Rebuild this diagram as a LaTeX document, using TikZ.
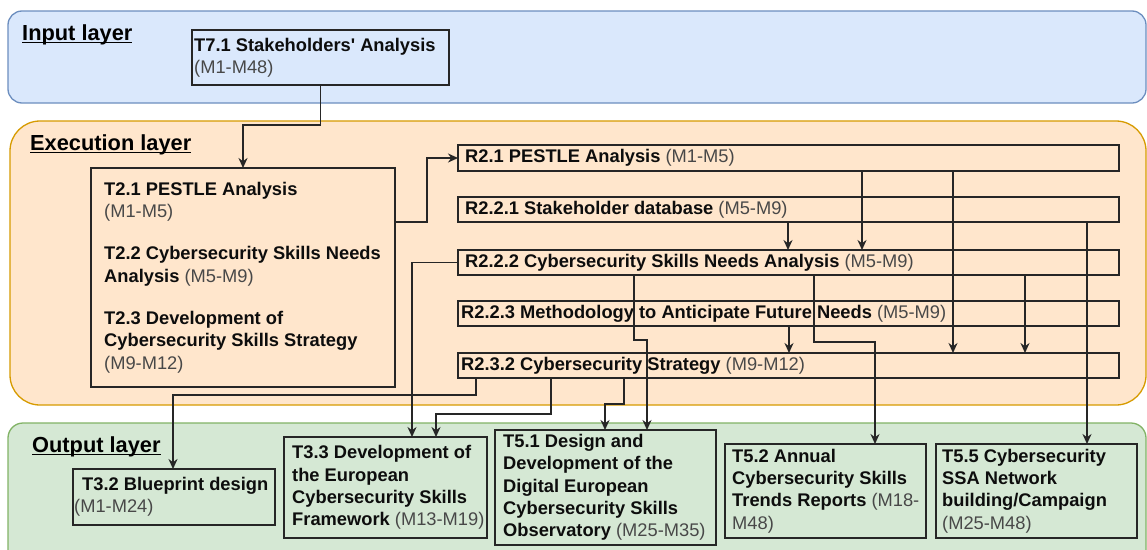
\documentclass[tikz,border=0pt]{standalone}
\usepackage{fontspec}
\setmainfont{Liberation Sans}
\usetikzlibrary{arrows.meta}
\usetikzlibrary{fit}
\definecolor{inbg}{RGB}{218,232,252}
\definecolor{inl}{RGB}{108,142,191}
\definecolor{exbg}{RGB}{255,230,204}
\definecolor{exl}{RGB}{215,155,0}
\definecolor{outbg}{RGB}{213,232,212}
\definecolor{outl}{RGB}{130,179,102}
\definecolor{durtext}{RGB}{72,72,72}
\newcommand\dur[1]{{\mdseries\color{durtext}#1}}
\newcommand\ulayer[1]{\setbox0\hbox{#1}\rlap{\rule[-3pt]{\wd0}{1.5pt}}\box0}

\begin{document}
\begin{tikzpicture} [
    x=1pt, y=-1pt,
    f/.style={draw=black!85, line width=1.6pt, -{Stealth[length=10pt,width=9pt]}},
    layer/.style={inner sep=0pt, outer sep=0pt, line width=1.3pt},
    layertitle/.style={
        anchor=base west, inner sep=0pt,
        font=\fontsize{21.8}{26}\selectfont\bfseries
    },
    box/.style={
        draw=black!85, line width=2pt,
        anchor=north west, inner sep=0pt, outer sep=0pt
    },
    boxtext/.style={
        anchor=west, inner sep=0pt, align=left, text=black!95,
        font=\fontsize{18.3}{22.3}\selectfont\bfseries
    }
]

\useasboundingbox [fill=white] (0,0) rectangle (1147,549);

% layers
\node [layer, fit={(8,11) (1146,103)}, fill=inbg, draw=inl,
    rounded corners=14pt] (inlayer) {};
\node [layer, fit={(10,121) (1146,405)}, fill=exbg, draw=exl,
    rounded corners=30pt] (exlayer) {};
\node [layer, fit={(8,423) (1146,580)}, fill=outbg, draw=outl,
    rounded corners=15pt] (outlayer) {};

\node [layertitle] (inlabel) at (22,40) {\ulayer{Input layer}};
\node [layertitle] (exlabel) at (30,150) {\ulayer{Execution layer}};
\node [layertitle] (outlabel) at (32,452) {\ulayer{Output layer}};

% input
\node [box, minimum width=257pt, minimum height=55pt] (t71) at (192,30) {};
\node [boxtext] (t71txt) at ([xshift=2pt]t71.west)
    {T7.1 Stakeholders\textquotesingle{} Analysis\\ \dur{(M1-M48)}};

% execution
\node [box, minimum width=304pt, minimum height=219pt] (t2) at (91,168) {};
\node [boxtext] (t2txt) at ([xshift=13pt]t2.west) {%
    T2.1 PESTLE Analysis\\ \dur{(M1-M5)}\\[20pt]
    T2.2 Cybersecurity Skills Needs\\ Analysis \dur{(M5-M9)}\\[20pt]
    T2.3 Development of\\ Cybersecurity Skills Strategy\\ \dur{(M9-M12)}};

\node [box, minimum width=661pt, minimum height=26pt] (r21) at (458,145) {};
\node [boxtext] (r21txt) at ([xshift=7pt]r21.west)
    {R2.1 PESTLE Analysis \dur{(M1-M5)}};
\node [box, minimum width=661pt, minimum height=25pt] (r221) at (458,197) {};
\node [boxtext] (r221txt) at ([xshift=7pt]r221.west)
    {R2.2.1 Stakeholder database \dur{(M5-M9)}};
\node [box, minimum width=661pt, minimum height=25pt] (r222) at (458,250) {};
\node [boxtext] (r222txt) at ([xshift=7pt]r222.west)
    {R2.2.2 Cybersecurity Skills Needs Analysis \dur{(M5-M9)}};
\node [box, minimum width=661pt, minimum height=25pt] (r223) at (458,301) {};
\node [boxtext] (r223txt) at ([xshift=3pt]r223.west)
    {R2.2.3 Methodology to Anticipate Future Needs \dur{(M5-M9)}};
\node [box, minimum width=661pt, minimum height=25pt] (r232) at (458,353) {};
\node [boxtext] (r232txt) at ([xshift=3pt]r232.west)
    {R2.3.2 Cybersecurity Strategy \dur{(M9-M12)}};

% output
\node [box, minimum width=202pt, minimum height=56pt] (t32) at (73,469) {};
\node [boxtext] (t32txt) at ([xshift=1pt]t32.west)
    {\hspace*{8pt}T3.2 Blueprint design\\ \dur{(M1-M24)}};
\node [box, minimum width=203pt, minimum height=101pt] (t33) at (284,437) {};
\node [boxtext] (t33txt) at ([xshift=8pt]t33.west)
    {T3.3 Development of\\ the European\\ Cybersecurity Skills\\
     Framework \dur{(M13-M19)}};
\node [box, minimum width=221pt, minimum height=115pt] (t51) at (495,430) {};
\node [boxtext] (t51txt) at ([xshift=8pt]t51.west)
    {T5.1 Design and\\ Development of the\\ Digital European\\
     Cybersecurity Skills\\ Observatory \dur{(M25-M35)}};
\node [box, minimum width=201pt, minimum height=94pt] (t52) at (725,444) {};
\node [boxtext] (t52txt) at ([xshift=7pt]t52.west)
    {T5.2 Annual\\ Cybersecurity Skills\\ Trends Reports \dur{(M18-}\\
     \dur{M48)}};
\node [box, minimum width=201pt, minimum height=94pt] (t55) at (936,444) {};
\node [boxtext] (t55txt) at ([xshift=6pt]t55.west)
    {T5.5 Cybersecurity\\ SSA Network\\ building/Campaign\\ \dur{(M25-M48)}};

% links
\draw [f] (t71.south) -- ++(0,40) -| (t2.north);
\draw [f] ([yshift=55.5pt]t2.east) -- ++(32,0) |- (r21.west);

\draw [f] ([xshift=404pt]r21.south west) -- ([xshift=404pt]r222.north west);
\draw [f] ([xshift=495pt]r21.south west) -- ([xshift=495pt]r232.north west);
\draw [f] ([xshift=330pt]r221.south west) -- ([xshift=330pt]r222.north west);
\draw [f] ([xshift=629pt]r221.south west) -- ([xshift=151pt]t55.north west);
\draw [f] ([xshift=567pt]r222.south west) -- ([xshift=567pt]r232.north west);
\draw [f] ([xshift=331pt]r223.south west) -- ([xshift=331pt]r232.north west);

\draw [f] (r222.west) -| ([xshift=128pt]t33.north west);
\draw [f] ([xshift=176pt]r222.south west) -- ++(0,65) -| ([xshift=152pt]t51.north west);
\draw [f] ([xshift=356pt]r222.south west) -- ++(0,67) -| ([xshift=150pt]t52.north west);

\draw [f] ([xshift=18pt]r232.south west) -- ++(0,17) -| ([xshift=100pt]t32.north west);
\draw [f] ([xshift=93pt]r232.south west) -- ++(0,36) -| ([xshift=152pt]t33.north west);
\draw [f] ([xshift=166pt]r232.south west) -- ++(0,26) -| ([xshift=110pt]t51.north west);

\end{tikzpicture}
\end{document}
